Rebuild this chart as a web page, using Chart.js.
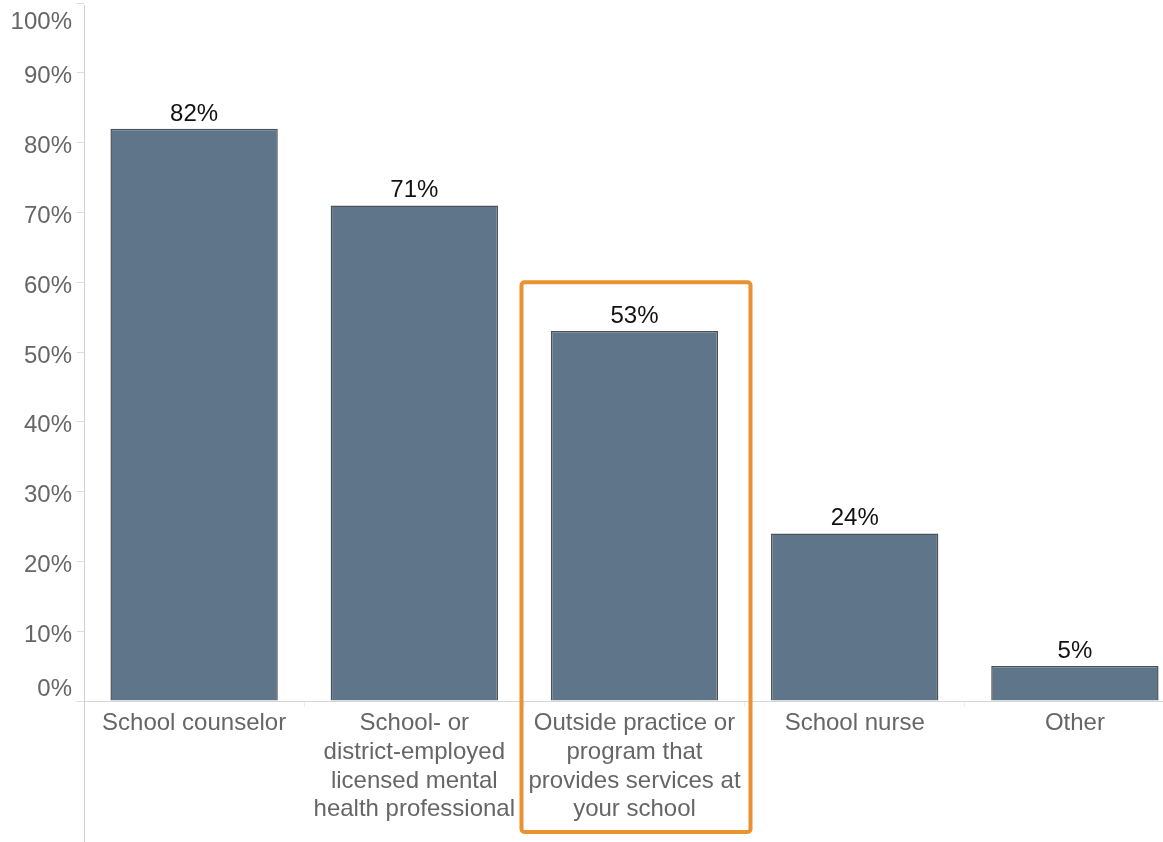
<!DOCTYPE html>
<html>
<head>
<meta charset="utf-8">
<script src="https://cdn.jsdelivr.net/npm/chart.js@4.4.1/dist/chart.umd.min.js"></script>
<style>
  html, body { margin: 0; padding: 0; background: #fff; overflow: hidden; }
  #wrap { width: 1185px; height: 842px; position: relative; }
</style>
</head>
<body>
<div id="wrap"><canvas id="c"></canvas></div>
<script>
const categories = [
  ["School counselor"],
  ["School- or", "district-employed", "licensed mental", "health professional"],
  ["Outside practice or", "program that", "provides services at", "your school"],
  ["School nurse"],
  ["Other"]
];
const values = [82, 71, 53, 24, 5];
const yTickValues = [0, 10, 20, 30, 40, 50, 60, 70, 80, 90, 100];
const highlightIndex = 2;
const highlightTopValue = 60;

const FONT = "'Liberation Sans', Arial, Helvetica, sans-serif";
const GREY = '#666666';

const overlay = {
  id: 'overlay',
  afterDraw(chart) {
    const ctx = chart.ctx;
    const area = chart.chartArea;
    const xs = chart.scales.x, ys = chart.scales.y;
    ctx.save();
    // vertical axis line extending to the bottom
    ctx.strokeStyle = '#d0d0d0';
    ctx.lineWidth = 1;
    ctx.beginPath();
    ctx.moveTo(Math.round(area.left) + 0.5, area.top + 2);
    ctx.lineTo(Math.round(area.left) + 0.5, chart.height);
    ctx.stroke();
    // y tick labels (clamped inside the plot)
    ctx.font = '24px ' + FONT;
    ctx.fillStyle = GREY;
    ctx.textAlign = 'right';
    ctx.textBaseline = 'alphabetic';
    yTickValues.forEach(v => {
      let y = ys.getPixelForValue(v) + 2;
      y = Math.max(area.top + 17, Math.min(area.bottom - 14, y));
      ctx.fillText(v + '%', area.left - 12, y + 8.5);
    });
    // data labels
    ctx.fillStyle = '#111111';
    ctx.textAlign = 'center';
    const meta = chart.getDatasetMeta(0);
    meta.data.forEach((bar, i) => {
      ctx.fillText(values[i] + '%', bar.x, bar.y - 8);
    });
    // highlight box
    const cx = xs.getPixelForValue(highlightIndex) + 1.5;
    const half = (xs.getPixelForValue(1) - xs.getPixelForValue(0)) * 0.52;
    const top = ys.getPixelForValue(highlightTopValue);
    const bottom = chart.height - 10;
    ctx.strokeStyle = '#E9922F';
    ctx.lineWidth = 4;
    ctx.lineJoin = 'round';
    ctx.beginPath();
    if (ctx.roundRect) ctx.roundRect(cx - half, top, half * 2, bottom - top, 3);
    else ctx.rect(cx - half, top, half * 2, bottom - top);
    ctx.stroke();
    ctx.restore();
  }
};

new Chart(document.getElementById('c'), {
  type: 'bar',
  data: {
    labels: categories,
    datasets: [{
      data: values,
      backgroundColor: '#5F7589',
      borderColor: '#4d5256',
      borderWidth: { top: 1.5, left: 1.5, right: 1.5, bottom: 0 },
      borderSkipped: 'bottom',
      categoryPercentage: 1,
      barPercentage: 0.76
    }]
  },
  options: {
    responsive: true,
    maintainAspectRatio: false,
    animation: false,
    layout: { padding: { top: 3, right: 0, bottom: 0, left: 0 } },
    plugins: { legend: { display: false }, tooltip: { enabled: false } },
    scales: {
      y: {
        min: 0, max: 100,
        ticks: { display: false, stepSize: 10 },
        grid: { drawOnChartArea: false, drawTicks: true, tickLength: 7, color: '#dddddd' },
        border: { display: false },
        afterFit(scale) { scale.width = 84; }
      },
      x: {
        ticks: {
          color: GREY,
          font: { family: FONT, size: 24, lineHeight: 1.2 },
          padding: 2,
          maxRotation: 0,
          autoSkip: false
        },
        grid: { drawOnChartArea: false, drawTicks: true, tickLength: 6, color: '#eeeeee', offset: true },
        border: { display: true, color: '#d6d6d6' },
        afterFit(scale) { scale.height = 141; }
      }
    }
  },
  plugins: [overlay]
});
</script>
</body>
</html>
